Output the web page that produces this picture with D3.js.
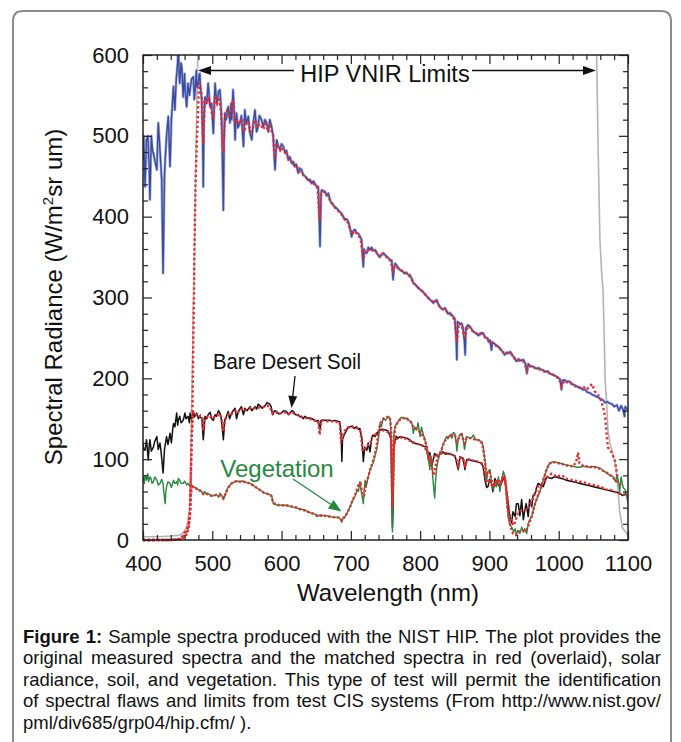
<!DOCTYPE html>
<html><head><meta charset="utf-8">
<script src="https://cdn.jsdelivr.net/npm/d3@7"></script>
<style>
body{margin:0;background:#fff}
svg{display:block}
text{font-family:"Liberation Sans",Arial,Helvetica,sans-serif}
</style>
</head><body>
<svg id="c" width="681" height="742"></svg>
<script>
// ---------- tick labels ----------
const xMajorTicks = [400,500,600,700,800,900,1000,1100];
const yMajorTicks = [0,100,200,300,400,500,600];
const xMinorStep = 20, yMinorStep = 20;

// ---------- data: [wavelength nm, radiance] ----------
const solarMeasured = [[400,470],[401,500],[403,437],[405,495],[407,500],[409,460],[410,421],[412,500],[414,480],[415,479],[417,470],[420,458],[422,516],[424,490],[427,445],[429,330],[431,450],[432,470],[434,500],[436.5,524],[439,462],[441,520],[444,561],[446,532],[448,570],[450,590],[451,620],[452,580],[453,565],[455,590],[456,585],[458,548],[460,577],[461,555],[463,536],[465,565],[467,550],[468,557],[470,570],[472.6,573],[474,545],[475,553],[477,581],[478,560],[480,565],[481,575],[482,577],[483,560],[484.7,545],[486,500],[487,437],[488,520],[489.5,548],[492,540],[494,565],[495.5,550],[496.7,536],[499,540],[501.5,503],[503,540],[504,565],[506,545],[507,540],[509,555],[511,557],[513,530],[514,500],[516,408],[517,490],[518,528],[520,520],[523,536],[524,530],[525.6,516],[527,540],[528,520],[530,557],[531,540],[533,495],[534,520],[535,528],[537,510],[540,516],[542,525],[545,487],[547,532],[549,515],[552,524],[554,505],[557,495],[559,515],[561.6,532],[564,505],[566,511],[568,525],[571,520],[573.6,511],[576,520],[578.5,516],[581,505],[583,520],[585.7,511],[588,499],[590.5,458],[593,495],[595,488],[597.7,483],[600,490],[602.5,487],[605,479],[607,482],[609.7,470],[612,474],[614.6,466],[617,468],[619,462],[621,465],[624,454],[626,460],[629,458],[631,452],[633.8,450],[636,448],[638.6,445],[641,446],[643.5,441],[646,444],[648,441],[650,438],[653,437],[655.5,363],[657,430],[658,433],[660,432],[662.7,431],[665,426],[667.5,429],[670,420],[672,417],[675,414],[677,412],[680,410],[682,408],[684,406],[686.8,404],[689,400],[691.5,396],[694,397],[696.3,394],[699,385],[701,375],[703,382],[706,384],[708,380],[710.7,379],[713,376],[715.6,371],[717,350],[718,338],[719,360],[721,355],[723,355],[725,362],[727.6,359],[730,362],[732,358],[734.8,359],[738,354],[742,350],[745,354],[747,355],[750,352],[753,350],[756,347],[759,346],[761,322],[762,335],[764,342],[766,340],[768,337],[771,334],[774,333],[777,330],[780,331],[783,328],[785,328],[788,323],[790,318],[793,316],[796,313],[800,310],[803,308],[806,305],[809,302],[812,299],[816,296],[819,293],[822,296],[824,297],[827,290],[830,287],[833,285],[836,287],[840,280],[843,281],[846,278],[848,276],[850,274],[852,250],[853,223],[854,270],[857,268],[860,268],[862,262],[864,245],[865,229],[866,262],[869,266],[872,264],[875,260],[878,257],[881,256],[884,253],[887,256],[891,256],[894,250],[897,250],[899,245],[901,247],[903,235],[904,245],[907,243],[910,241],[913,239],[916,236],[919,233],[922,229],[925,232],[928,231],[930,233],[933,229],[936,225],[939,221],[942,224],[945,222],[949,223],[952,218],[954,206],[956,218],[958,216],[961,215],[964,214],[968,212],[971,213],[974,211],[978,210],[981,208],[984,209],[987,206],[990,205],[993,204],[997,202],[1000,200],[1002,199],[1004,186],[1005,197],[1008,198],[1012,196],[1016,196],[1019,193],[1022,192],[1026,190],[1029,189],[1032,188],[1035,186],[1038,186],[1041,183],[1045,182],[1048,180],[1051,179],[1055,177],[1058,176],[1061,174],[1064,173],[1067,170],[1070,171],[1074,169],[1077,168],[1080,165],[1084,167],[1087,160],[1090,166],[1093,161],[1095,153],[1096,165],[1098,163],[1100,160]];

const solarMatched = [[400,0],[420,0],[440,0],[450,1],[455,2],[460,9],[465,16],[468,33],[469,74],[470,115],[471.5,165],[472.6,247],[473.6,301],[474,351],[475,400],[476,445],[477.5,487],[479,520],[480,545],[481,565],[483,560],[485,548],[487,490],[489,545],[492,540],[495,548],[498,535],[501,520],[504,550],[507,540],[510,548],[513,525],[516,480],[518,520],[521,530],[524,525],[527,532],[530,545],[533,515],[536,520],[540,515],[543,522],[546,505],[549,515],[552,518],[555,505],[558,508],[562,520],[565,510],[568,515],[571,512],[574,508],[577,515],[580,508],[583,512],[586,505],[588,500],[590,470],[592,490],[595,487],[598,482],[601,486],[604,480],[607,478],[610,472],[613,470],[616,466],[619,463],[622,462],[625,456],[628,455],[631,452],[634,449],[637,447],[640,445],[643,442],[646,441],[649,439],[652,435],[655,395],[657,428],[660,431],[663,430],[666,427],[669,422],[672,418],[675,414],[678,410],[681,408],[684,405],[687,402],[690,398],[693,396],[696,392],[699,384],[702,378],[705,382],[708,380],[711,377],[714,372],[717,355],[718,345],[720,357],[723,356],[726,360],[729,360],[732,358],[735,358],[738,355],[741,351],[744,352],[747,354],[750,351],[754,348],[758,345],[761,330],[763,338],[766,339],[769,335],[772,334],[776,331],[780,330],[784,327],[788,322],[792,317],[796,313],[800,310],[805,306],[810,301],[815,297],[820,294],[824,295],[828,289],[832,286],[836,285],[840,281],[845,278],[850,272],[853,245],[856,268],[860,266],[864,250],[866,258],[870,265],[875,259],[880,256],[885,254],[890,255],[895,250],[900,246],[905,243],[910,240],[915,237],[920,232],[925,231],[930,232],[935,226],[940,222],[945,222],[950,220],[954,210],[958,215],[965,213],[970,212],[975,210],[980,208],[985,207],[990,205],[995,203],[1000,200],[1004,190],[1008,197],[1012,195],[1016,195],[1020,192],[1025,190],[1030,188],[1035,190],[1040,186],[1045,190],[1048,193],[1052,184],[1056,180],[1060,175],[1062,170],[1064,165],[1067,152],[1069,132],[1071,115],[1074,110],[1076,109],[1079,103],[1081,99],[1083,88],[1085,78]];

const filterLimits = [[400,4],[420,4],[440,5],[453,6],[458,9],[460.6,12],[463,17],[465,25],[467,38],[468,54],[469,95],[470,157],[471.5,220],[472.6,290],[474,330],[475,400],[476,460],[477.5,536],[479,594],[480,650],[1052,650],[1054.7,600],[1057,480],[1059.5,371],[1062,330],[1064,309],[1066,240],[1067,198],[1069,173],[1071,136],[1074,120],[1078,107],[1082.6,90],[1084,74],[1085.5,62],[1088,35],[1092,15],[1100,6]];

const soilMeasured = [[400,120],[401,112],[403,111],[405,124],[406,115],[407.6,99],[409,118],[410,124],[412,110],[415,115],[417,122],[420,128],[422,112],[424.5,120],[426,110],[429,83],[431,112],[434,128],[436,118],[439,132],[441,120],[443,138],[444,144],[446,140],[448.6,157],[450,142],[451,148],[453,153],[455,145],[458,148],[460.6,157],[462,150],[465,153],[467,145],[468,157],[470,150],[472.6,159],[474,152],[477.5,157],[480,150],[482,153],[485,150],[487,124],[489.5,153],[492,150],[494,155],[497,158],[499,150],[501.5,148],[504,155],[506,153],[509,160],[511,157],[513,150],[516,124],[518,148],[520,152],[523,159],[525,150],[528,157],[530,160],[533,163],[535,150],[537.5,159],[540,162],[542,165],[545,155],[547,163],[550,160],[554.5,165],[557,160],[561.6,165],[564,162],[566,168],[569,166],[572,163],[576,166],[579,170],[583,168],[585,165],[587,155],[588,157],[590,160],[593,159],[596,156],[600,157],[603,160],[607,159],[610,155],[612,157],[615,160],[617,159],[620,155],[624,155],[627,152],[629,153],[631,150],[633.8,153],[637,151],[641,151],[644,150],[648,148],[650,147],[653,148],[655.5,136],[657,148],[660,148],[665,148],[670,148],[674,147],[677,148],[681,147],[684,146],[686,130],[687,97],[688,125],[691.5,132],[695,138],[698.7,140],[702,141],[705,138],[708,140],[711,137],[713,138],[716,125],[718,97],[720,115],[723,111],[725,120],[727.6,109],[730,125],[732,130],[735,128],[738,133],[739.6,132],[742,136],[746,137],[750,136],[754,135],[756.5,128],[758,125],[759,60],[760,15],[761,40],[762,110],[763.7,124],[766,128],[768,126],[771,128],[775,127],[780.6,126],[785,124],[790,120],[795,119],[800,118],[805,116],[809,115],[812,99],[814,108],[816.7,91],[819,100],[821,107],[824,104],[826,103],[830,108],[833,109],[837,106],[840.6,107],[844,106],[848,105],[851,102],[852.7,95],[855,87],[857.5,103],[862,101],[864.7,87],[867,99],[870,100],[872,99],[876,98],[881.6,97],[885,96],[889,95],[891,90],[893.6,74],[896,65],[898,66],[900,75],[903,70],[905,60],[908,76],[911,70],[915,66],[918,72],[922,78],[924,65],[927,45],[929,30],[932,21],[934,35],[937,29],[939,45],[941.6,45],[944,30],[946.5,50],[949,25],[951,37],[953,45],[956,29],[958,50],[961,41],[963,55],[966,58],[968,65],[970.5,70],[974,68],[977.7,66],[980,72],[982.6,78],[986,77],[989.8,76],[993,78],[997,78],[1000,77],[1004,76],[1008,75],[1011,74],[1016,73],[1021,72],[1026,71],[1030.7,70],[1035,69],[1040,68],[1045,67],[1050,66],[1055,65],[1059.5,64],[1064,63],[1069,62],[1074,61],[1078.7,60],[1083,59],[1088,58],[1092,55],[1096,57],[1100,54]];

const soilMatched = [[400,0],[440,0],[455,1],[462,8],[466,18],[468,40],[469,80],[470,120],[471.5,150],[473,158],[477,155],[480,152],[483,154],[486,150],[487,135],[489,150],[492,152],[495,154],[498,152],[501,150],[504,153],[507,154],[510,156],[513,152],[516,135],[518,148],[521,153],[524,156],[527,155],[530,158],[533,160],[536,157],[540,160],[543,162],[546,160],[550,162],[555,163],[560,163],[565,164],[570,164],[575,165],[580,166],[583,165],[586,158],[588,156],[592,158],[596,156],[600,157],[605,158],[610,156],[615,158],[620,155],[625,154],[630,152],[635,151],[640,150],[645,149],[650,147],[653,146],[655,130],[657,146],[660,148],[665,147],[670,147],[675,147],[680,146],[684,145],[686,120],[688,128],[691,135],[695,139],[700,140],[705,139],[710,138],[714,134],[717,110],[719,112],[722,115],[725,118],[728,120],[731,128],[735,130],[740,134],[745,136],[750,135],[755,133],[758,128],[759,80],[760,40],[761,70],[762,115],[764,124],[768,126],[772,127],[776,126],[780,125],[785,123],[790,121],[795,119],[800,118],[805,116],[810,110],[813,100],[816,95],[819,102],[822,106],[826,105],[830,107],[835,108],[840,107],[845,106],[850,104],[853,98],[855,92],[858,102],[862,100],[865,92],[868,100],[872,99],[877,98],[882,97],[887,96],[891,92],[894,80],[897,70],[900,72],[903,68],[906,65],[909,72],[912,70],[915,68],[918,74],[922,76],[925,60],[928,38],[932,22],[935,18],[938,25],[941,33],[945,36],[950,37],[955,38],[958,42],[962,50],[966,58],[970,66],[974,68],[978,70],[982,76],[986,80],[990,82],[994,80],[998,78],[1002,80],[1006,79],[1010,76],[1015,75],[1020,74],[1025,73],[1030,72],[1035,72],[1040,70],[1045,69],[1050,68],[1055,67],[1060,66],[1065,64],[1070,62],[1075,62],[1080,60],[1085,58],[1090,57],[1095,56],[1100,55]];

const vegMeasured = [[400,78],[402,70],[403,80],[405,74],[407,82],[408,72],[410,78],[412,75],[413,70],[415,72],[417,78],[420,74],[422,68],[424.5,70],[427,75],[429,70],[430,60],[432,45],[433,60],[434,66],[436,72],[439,70],[441,65],[444,74],[446,70],[448.6,72],[450,68],[451,76],[453,74],[455,70],[458,70],[460,73],[463,68],[465,70],[468,66],[470,68],[472.6,66],[475,65],[477.5,64],[480,62],[482,62],[485,60],[487,56],[489,60],[492,56],[495,57],[499,54],[502,55],[506,56],[509,53],[511,58],[514,55],[516,50],[518,54],[521,62],[523,65],[525.6,68],[528,70],[530,71],[533,72],[536,73],[540,72],[543,73],[547,72],[550,71],[554.5,70],[558,68],[561.6,66],[565,64],[569,62],[572,60],[576,58],[580,57],[583,56],[586,54],[588,45],[590,44],[595,43],[600,43],[605,43],[610,42],[614.6,41],[620,40],[624,39],[629,38],[633.8,37],[638,35],[643.5,33],[648,32],[651,29],[653,30],[657,31],[660,30],[665,30],[670,29],[675,28],[679.5,28],[684,27],[687,22],[689,28],[691.5,29],[695,34],[698.7,41],[702,48],[706,54],[709,62],[711,60],[713,72],[715,60],[717,50],[718,45],[719,60],[720.6,74],[722,65],[725,78],[728,88],[732,95],[735,105],[737,111],[739.6,124],[742,144],[744,140],[746.8,151],[750,148],[754,153],[757,150],[759,100],[760,10],[761,60],[762,130],[763.7,140],[766,144],[768,146],[771,150],[773,152],[777,150],[780.6,151],[784,148],[787.8,146],[789,140],[790,132],[792,140],[795,136],[797,145],[800,128],[802,140],[804,132],[807,124],[809,115],[812,100],[814,87],[815,105],[816.7,99],[818,80],[820,60],[821,52],[822,70],[824,90],[826,99],[828,105],[831,111],[833,118],[836,124],[838,128],[840,125],[843,130],[846,126],[848,133],[850,132],[852,120],[853,110],[855,124],[857,130],[860,132],[862,125],[864,112],[866,122],[867,128],[870,127],[874,126],[877,130],[880,124],[881.6,124],[885,123],[889,122],[891,115],[893.6,99],[896,74],[898,85],[901,87],[903,70],[905.6,62],[908,70],[910,66],[913,78],[915,60],[917.7,74],[920,85],[922,80],[924,60],[927,29],[929,20],[932,16],[935,10],[937,14],[939,6],[941,12],[944,8],[946.5,16],[949,10],[951,14],[953.7,8],[956,20],[958,25],[961,29],[964,40],[968,50],[972,58],[975,66],[979,78],[982.6,87],[985,92],[987,95],[992,97],[997,96],[1002,95],[1006,94],[1011,93],[1016,92],[1021,91],[1026,90],[1030.7,90],[1035,91],[1040,91],[1045,90],[1050,91],[1055,90],[1059.5,89],[1064,86],[1069,83],[1074,80],[1078.7,78],[1082,72],[1084,80],[1086,74],[1088,60],[1090,78],[1093,65],[1096,62],[1098,55],[1100,46]];

const vegMatched = [[400,0],[440,0],[455,1],[462,5],[466,15],[468,35],[469,55],[470,62],[472,66],[476,64],[480,62],[484,60],[487,57],[490,58],[494,57],[498,55],[502,55],[506,56],[510,55],[514,55],[516,52],[518,55],[521,61],[524,66],[528,70],[532,72],[536,73],[540,72],[545,72],[550,71],[555,70],[560,67],[565,64],[570,61],[575,58],[580,57],[585,55],[588,46],[592,44],[597,43],[602,43],[607,43],[612,42],[617,41],[622,40],[627,38],[632,37],[637,35],[642,34],[647,32],[652,30],[657,30],[662,30],[667,29],[672,29],[677,28],[682,28],[686,25],[688,24],[691,29],[695,34],[699,41],[703,50],[707,58],[711,68],[714,70],[717,55],[719,55],[722,70],[725,78],[729,90],[733,100],[737,115],[740,135],[743,145],[747,150],[752,152],[756,152],[758,140],[760,60],[762,120],[764,140],[768,146],[772,150],[776,151],[780,150],[785,148],[790,140],[795,137],[800,133],[805,128],[809,118],[813,100],[817,90],[820,80],[823,95],[827,105],[831,112],[835,122],[840,127],[845,130],[850,130],[853,122],[856,127],[860,130],[864,120],[867,126],[872,126],[877,125],[882,124],[887,123],[890,118],[893,100],[896,82],[900,84],[904,72],[908,68],[912,75],[916,70],[920,80],[923,75],[926,40],[930,18],[934,8],[938,6],[942,10],[946,12],[950,11],[954,13],[958,22],[962,32],[966,45],[970,55],[974,64],[978,75],[982,86],[986,94],[990,96],[995,96],[1000,95],[1005,94],[1010,92],[1015,92],[1020,91],[1025,96],[1028,108],[1030,95],[1035,92],[1040,91],[1045,90],[1050,91],[1055,89],[1060,88],[1065,85],[1070,83],[1075,80],[1080,76],[1085,72],[1090,68]];

const captionLines = [
  ["Figure 1:", " Sample spectra produced with the NIST HIP. The plot provides the"],
  ["", "original measured spectra and the matched spectra in red (overlaid), solar"],
  ["", "radiance, soil, and vegetation. This type of test will permit the identification"],
  ["", "of spectral flaws and limits from test CIS systems (From http://www.nist.gov/"],
  ["", "pml/div685/grp04/hip.cfm/ )."]
];

// ---------- layout ----------
const svg = d3.select("#c");
const L = 143, R = 628, T = 55, B = 540;
const x = d3.scaleLinear().domain([400, 1100]).range([L, R]);
const y = d3.scaleLinear().domain([0, 600]).range([B, T]);

// outer rounded border (open at bottom)
svg.append("path")
  .attr("d", "M13,745 V21 Q13,11 23,11 H661 Q671,11 671,21 V745")
  .attr("fill", "none").attr("stroke", "#8c8c8c").attr("stroke-width", 2);

svg.append("defs").append("clipPath").attr("id", "plotclip")
  .append("rect").attr("x", L).attr("y", T).attr("width", R - L).attr("height", B - T + 2.5);

const line = d3.line().x(d => x(d[0])).y(d => y(d[1]));
const g = svg.append("g").attr("clip-path", "url(#plotclip)");

g.append("path").datum(filterLimits).attr("d", line)
  .attr("fill", "none").attr("stroke", "#b4b4b4").attr("stroke-width", 1.6);
g.append("path").datum(solarMeasured).attr("d", line)
  .attr("fill", "none").attr("stroke", "#aab3dc").attr("stroke-width", 2.8).attr("stroke-linejoin", "round");
g.append("path").datum(solarMeasured).attr("d", line)
  .attr("fill", "none").attr("stroke", "#3a4c9f").attr("stroke-width", 1.4).attr("stroke-linejoin", "round");
g.append("path").datum(soilMeasured).attr("d", line)
  .attr("fill", "none").attr("stroke", "#111").attr("stroke-width", 1.5).attr("stroke-linejoin", "round");
g.append("path").datum(vegMeasured).attr("d", line)
  .attr("fill", "none").attr("stroke", "#26883f").attr("stroke-width", 1.4).attr("stroke-linejoin", "round");

[[solarMatched, "2.3 2.6"], [soilMatched, "2.3 2.3"], [vegMatched, "2.3 2.1"]].forEach(([data, dash]) => {
  g.append("path").datum(data).attr("d", line)
    .attr("fill", "none").attr("stroke", "#ec2a2e").attr("stroke-width", 2.4)
    .attr("stroke-dasharray", dash);
});

// ---------- axes ----------
const xMinor = d3.range(400, 1100 + 1, xMinorStep).filter(v => v % 100 !== 0);
const yMinor = d3.range(0, 600 + 1, yMinorStep).filter(v => v % 100 !== 0);
const ax = svg.append("g").attr("class", "axes");

function styleAxis(sel) {
  sel.select(".domain").remove();
  sel.selectAll(".tick line").attr("stroke", "#222").attr("stroke-width", 1.2);
  sel.selectAll("text").attr("font-size", 22).attr("fill", "#111")
    .attr("font-family", '"Liberation Sans",Arial,sans-serif');
}
ax.append("g").attr("transform", `translate(0,${B})`)
  .call(d3.axisBottom(x).tickValues(xMajorTicks).tickSize(-9).tickPadding(15).tickFormat(d3.format("d"))).call(styleAxis);
ax.append("g").attr("transform", `translate(0,${B})`)
  .call(d3.axisBottom(x).tickValues(xMinor).tickSize(-5).tickFormat("")).call(styleAxis);
ax.append("g").attr("transform", `translate(0,${T})`)
  .call(d3.axisTop(x).tickValues(xMajorTicks).tickSize(-9).tickFormat("")).call(styleAxis);
ax.append("g").attr("transform", `translate(0,${T})`)
  .call(d3.axisTop(x).tickValues(xMinor).tickSize(-5).tickFormat("")).call(styleAxis);
ax.append("g").attr("transform", `translate(${L},0)`)
  .call(d3.axisLeft(y).tickValues(yMajorTicks).tickSize(-9).tickPadding(14).tickFormat(d3.format("d"))).call(styleAxis);
ax.append("g").attr("transform", `translate(${L},0)`)
  .call(d3.axisLeft(y).tickValues(yMinor).tickSize(-5).tickFormat("")).call(styleAxis);
ax.append("g").attr("transform", `translate(${R},0)`)
  .call(d3.axisRight(y).tickValues(yMajorTicks).tickSize(-9).tickFormat("")).call(styleAxis);
ax.append("g").attr("transform", `translate(${R},0)`)
  .call(d3.axisRight(y).tickValues(yMinor).tickSize(-5).tickFormat("")).call(styleAxis);

svg.append("rect").attr("x", L).attr("y", T).attr("width", R - L).attr("height", B - T)
  .attr("fill", "none").attr("stroke", "#222").attr("stroke-width", 1.5);

// ---------- axis titles ----------
svg.append("text").attr("x", 388).attr("y", 601).attr("text-anchor", "middle")
  .attr("font-size", 24).attr("fill", "#111").text("Wavelength (nm)");
const yt = svg.append("text").attr("transform", "translate(62,297) rotate(-90)")
  .attr("text-anchor", "middle").attr("font-size", 24).attr("fill", "#111");
yt.append("tspan").text("Spectral Radiance (W/m");
yt.append("tspan").attr("dy", -9).attr("font-size", 15).text("2");
yt.append("tspan").attr("dy", 9).text("sr um)");

// ---------- annotations ----------
function arrow(x1, y1, x2, y2, color, headLen, headW) {
  const a = Math.atan2(y2 - y1, x2 - x1);
  const bx = x2 - headLen * Math.cos(a), by = y2 - headLen * Math.sin(a);
  svg.append("line").attr("x1", x1).attr("y1", y1).attr("x2", bx).attr("y2", by)
    .attr("stroke", color).attr("stroke-width", 1.3);
  const px = -Math.sin(a) * headW, py = Math.cos(a) * headW;
  svg.append("polygon")
    .attr("points", `${x2},${y2} ${bx + px},${by + py} ${bx - px},${by - py}`)
    .attr("fill", color);
}
svg.append("text").attr("x", 385).attr("y", 81.5).attr("text-anchor", "middle")
  .attr("font-size", 23.5).attr("fill", "#111").text("HIP VNIR Limits");
arrow(294, 70.5, 198, 70.5, "#111", 13, 4.5);
arrow(472, 70.5, 596, 70.5, "#111", 13, 4.5);

svg.append("text").attr("x", 213).attr("y", 368.5)
  .attr("font-size", 22).attr("fill", "#111")
  .attr("textLength", 148).attr("lengthAdjust", "spacingAndGlyphs").text("Bare Desert Soil");
arrow(295, 376, 291.5, 408, "#111", 12, 4.5);

svg.append("text").attr("x", 277).attr("y", 477).attr("text-anchor", "middle")
  .attr("font-size", 24).attr("fill", "#23893f").text("Vegetation");
arrow(293, 479, 341.5, 511.5, "#23893f", 13, 5);

// ---------- caption (condensed, justified by word spacing) ----------
const capY = [642.5, 664, 685.5, 707, 728.5];
const capW = 638, capSize = 18.5;
const capG = svg.append("g");
const caps = captionLines.map((ln, i) => {
  const t = capG.append("text").attr("x", 0).attr("y", capY[i])
    .attr("font-size", capSize).attr("fill", "#111");
  if (ln[0]) t.append("tspan").attr("font-weight", "bold").text(ln[0]);
  t.append("tspan").text(ln[1]);
  return t;
});
const maxW = d3.max(caps.slice(0, 4), t => t.node().getComputedTextLength());
const sx = Math.min(1, (capW - 10) / maxW);
capG.attr("transform", `translate(23,0) scale(${sx.toFixed(4)},1)`);
caps.forEach((t, i) => {
  if (i < caps.length - 1) {
    const w = t.node().getComputedTextLength();
    const nSp = (captionLines[i][0] + captionLines[i][1]).split(" ").length - 1;
    t.attr("word-spacing", ((capW / sx - w) / nSp).toFixed(3));
  }
});
</script>
</body></html>
